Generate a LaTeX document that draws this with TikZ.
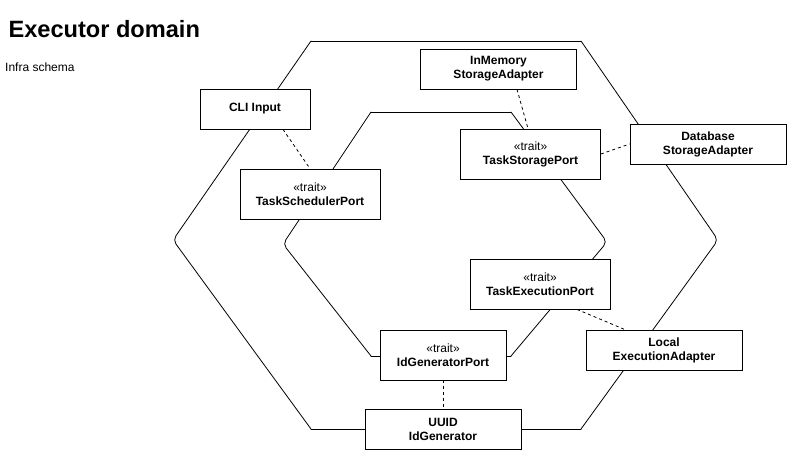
\documentclass[tikz,border=0pt]{standalone}
\usepackage{fontspec}
\setmainfont{Liberation Sans}
\usepackage{tikz}
\usetikzlibrary{positioning, shapes}

\begin{document}
\begin{tikzpicture}[x=1pt, y=-1pt,
    box/.style={rectangle, draw=black, line width=0.8pt, fill=white, align=center, inner sep=2pt,
        font=\fontsize{12}{14}\selectfont\bfseries},
    adapter/.style={box, minimum width=156pt, minimum height=40pt},
    port/.style={box, minimum width=140pt, minimum height=50pt},
    link/.style={line width=0.8pt, dash pattern=on 3pt off 3pt},
    ring/.style={line width=0.8pt, line cap=round, rounded corners=5pt}]
            \useasboundingbox (0, 0) rectangle (787, 451);

            \node[anchor=base west, font=\fontsize{23.6}{28}\selectfont\bfseries] (title) at (5, 37) {Executor domain};
            \node[anchor=base west, inner sep=0pt, font=\fontsize{12}{14}\selectfont] (subtitle) at (5, 71) {Infra schema};

            % outer hexagon
            \draw[ring] (311, 41) -- (581, 41);
            \draw[ring] (581, 41) -- (718, 240) -- (581, 429);
            \draw[ring] (581, 429) -- (311, 429);
            \draw[ring] (311, 429) -- (173, 240) -- (311, 41);
            % inner hexagon
            \draw[ring] (371, 112) -- (511, 112);
            \draw[ring] (511, 112) -- (607, 242) -- (511, 356);
            \draw[ring] (511, 356) -- (371, 356);
            \draw[ring] (371, 356) -- (283, 244) -- (371, 112);

            \node[box, minimum width=110pt, minimum height=40pt] (cli) at (255, 109) {CLI Input};
            \node[adapter] (inmemory) at (498.5, 69) {InMemory\\StorageAdapter};
            \node[port] (storageport) at (530.5, 154) {{\mdseries «trait»}\\TaskStoragePort};
            \node[adapter] (database) at (708, 144) {Database\\StorageAdapter};
            \node[port] (schedulerport) at (310, 194) {{\mdseries «trait»}\\TaskSchedulerPort};
            \node[port] (executionport) at (540, 284) {{\mdseries «trait»}\\TaskExecutionPort};
            \node[port, minimum width=126pt] (idport) at (443, 355) {{\mdseries «trait»}\\IdGeneratorPort};
            \node[adapter] (local) at (664, 350) {Local\\ExecutionAdapter};
            \node[adapter] (uuid) at (443, 429) {UUID\\IdGenerator};

            \draw[link] ([xshift=28pt]cli.south) -- (schedulerport.north);
            \draw[link] ([xshift=18.5pt]inmemory.south) -- ([xshift=-2.5pt]storageport.north);
            \draw[link] (storageport.east) -- (database.west);
            \draw[link] ([xshift=37pt]executionport.south) -- ([xshift=-39pt]local.north);
            \draw[link] (idport.south) -- (uuid.north);
        \end{tikzpicture}
\end{document}
